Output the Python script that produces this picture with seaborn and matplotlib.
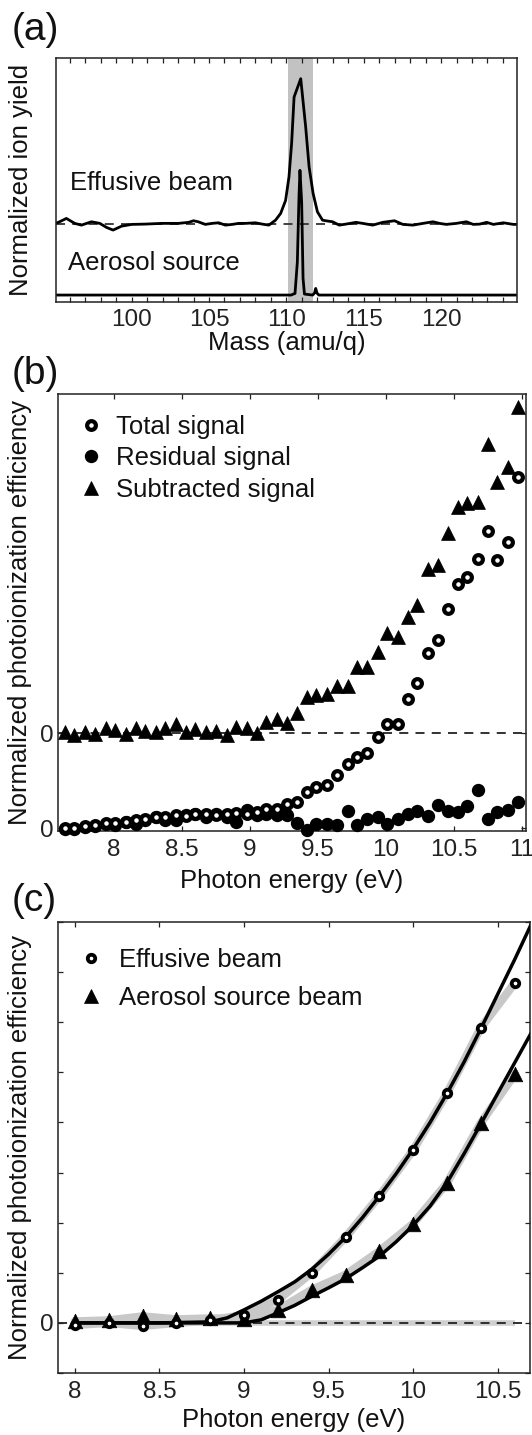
import numpy as np
import matplotlib
matplotlib.use('Agg')
import matplotlib.pyplot as plt
import seaborn as sns
from matplotlib.ticker import MultipleLocator, FixedLocator, FixedFormatter, FormatStrFormatter
from matplotlib.lines import Line2D

# ---------------- data ----------------
# (a) mass spectra, each trace normalised to its own peak
eff_mass = [94.8, 95.34, 95.78, 96.32, 96.75, 97.4, 97.94, 98.38, 98.8, 99.35, 100.0, 100.86,
            101.95, 103.03, 103.68, 104.0, 104.3, 104.76, 105.2, 105.62, 106.06, 106.5, 106.92,
            107.36, 108.0, 108.44, 108.87, 109.3, 109.63, 109.95, 110.17, 110.34, 110.5, 110.93,
            111.25, 111.47, 111.73, 112.01, 112.34, 112.55, 112.99, 113.42, 113.85, 114.5, 114.94,
            115.58, 116.23, 116.99, 117.53, 118.18, 118.83, 119.48, 119.9, 120.34, 120.99, 121.64,
            122.08, 122.5, 122.95, 123.38, 124.03, 124.68, 124.9]
eff_yield = [-0.005, 0.018, 0.041, 0.007, -0.005, 0.018, 0.007, -0.021, -0.039, -0.012, 0.0, 0.002,
             0.007, 0.007, 0.014, 0.025, 0.018, 0.0, 0.007, 0.011, -0.005, 0.0, 0.007,
             0.007, 0.011, 0.002, -0.005, 0.029, 0.075, 0.164, 0.326, 0.555, 0.874, 1.0,
             0.668, 0.395, 0.212, 0.086, 0.029, 0.025, 0.018, -0.005, 0.002, 0.014, 0.007,
             -0.005, 0.014, 0.025, 0.0, -0.005, 0.007, 0.018, 0.007, 0.0, 0.007, 0.018,
             0.0, 0.002, 0.014, 0.0, 0.011, 0.0, 0.0]
aer_mass = [94.8, 110.3, 110.56, 110.71, 110.82, 110.88, 110.99, 111.08, 111.17, 111.7, 111.82,
            111.9, 111.98, 112.1, 124.9]
aer_yield = [0.0, 0.0, 0.013, 0.264, 0.8, 1.0, 0.744, 0.133, 0.008, 0.0, 0.016, 0.053, 0.016, 0.0, 0.0]
mass_window = (110.1, 111.7)

# (b) photoionization efficiency scan
energy_b = [7.64, 7.71, 7.79, 7.86, 7.94, 8.01, 8.09, 8.16, 8.23, 8.31, 8.38, 8.46, 8.53, 8.60,
            8.68, 8.75, 8.83, 8.90, 8.98, 9.05, 9.12, 9.20, 9.27, 9.35, 9.42, 9.49, 9.57, 9.64,
            9.72, 9.79, 9.86, 9.94, 10.01, 10.09, 10.16, 10.23, 10.31, 10.38, 10.46, 10.53, 10.60,
            10.68, 10.75, 10.82, 10.90, 10.97]
total_signal = [0.0, 0.003, 0.017, 0.027, 0.05, 0.05, 0.06, 0.077, 0.093, 0.11, 0.11, 0.127, 0.117,
                0.137, 0.143, 0.127, 0.143, 0.15, 0.143, 0.16, 0.193, 0.193, 0.243, 0.26, 0.36,
                0.41, 0.427, 0.527, 0.643, 0.71, 0.75, 0.91, 1.037, 1.037, 1.293, 1.45, 1.75,
                1.883, 2.193, 2.443, 2.51, 2.693, 2.97, 2.683, 2.86, 3.51]
residual_signal = [-0.007, -0.007, 0.010, 0.017, 0.037, 0.027, 0.060, 0.037, 0.077, 0.110, 0.077,
                   0.077, 0.127, 0.137, 0.110, 0.143, 0.110, 0.060, 0.183, 0.127, 0.143, 0.127,
                   0.127, 0.050, -0.017, 0.037, 0.037, 0.027, 0.170, 0.027, 0.093, 0.110, 0.037,
                   0.093, 0.137, 0.170, 0.117, 0.227, 0.170, 0.160, 0.217, 0.383, 0.093, 0.160,
                   0.183, 0.260]
subtracted_signal = [0.017, -0.017, 0.017, -0.007, 0.05, 0.033, -0.007, 0.05, 0.027, 0.01, 0.05,
                     0.093, 0.01, 0.043, 0.017, 0.027, -0.017, 0.067, 0.05, 0.0, 0.117, 0.14, 0.10,
                     0.20, 0.367, 0.383, 0.393, 0.473, 0.473, 0.667, 0.667, 0.817, 1.007, 0.96,
                     1.167, 1.283, 1.64, 1.683, 2.0, 2.267, 2.30, 2.317, 2.893, 2.517, 2.667, 3.267]

# (c) effusive vs aerosol source, with threshold fits
energy_c = [8.0, 8.2, 8.4, 8.6, 8.8, 9.0, 9.2, 9.4, 9.6, 9.8, 10.0, 10.2, 10.4, 10.6]
effusive_pie = [-0.004, 0.0, -0.006, 0.0, 0.005, 0.016, 0.046, 0.100, 0.171, 0.253, 0.345, 0.458,
                0.589, 0.678]
aerosol_pie = [0.003, 0.005, 0.013, 0.007, 0.009, 0.008, 0.026, 0.066, 0.096, 0.143, 0.198, 0.279,
               0.399, 0.496]
fit_energy = [8.0, 8.5, 8.8, 8.9, 9.0, 9.1, 9.2, 9.3, 9.4, 9.5, 9.6, 9.7, 9.8, 9.9, 10.0, 10.1,
              10.2, 10.3, 10.4, 10.5, 10.6, 10.7]
effusive_fit = [0.0, 0.0, 0.002, 0.01, 0.026, 0.043, 0.062, 0.082, 0.107, 0.137, 0.171, 0.21,
                0.253, 0.298, 0.347, 0.40, 0.458, 0.52, 0.587, 0.656, 0.725, 0.797]
aerosol_fit = [0.0, 0.0, 0.0, 0.0, 0.0, 0.006, 0.02, 0.035, 0.053, 0.07, 0.088, 0.11, 0.133,
               0.162, 0.195, 0.233, 0.28, 0.337, 0.397, 0.458, 0.519, 0.58]

# ---------------- style ----------------
sns.set_theme(style='ticks')
plt.rcParams['font.family'] = ['Liberation Sans', 'DejaVu Sans']
plt.rcParams.update({
    'font.size': 18.5,
    'axes.labelsize': 18.5,
    'xtick.labelsize': 17.5,
    'ytick.labelsize': 17.5,
    'axes.edgecolor': '#222222',
    'axes.linewidth': 1.1,
    'xtick.direction': 'in',
    'ytick.direction': 'in',
    'xtick.top': True,
    'ytick.right': True,
    'xtick.color': '#222222',
    'ytick.color': '#222222',
    'text.color': '#111111',
    'axes.labelcolor': '#111111',
})

fig = plt.figure(figsize=(5.32, 14.35), dpi=100)

def tidy(ax, pad=4):
    ax.tick_params(which='both', length=3.5, width=0.9, pad=pad)

# ---------------- (a) ----------------
EFF_OFF, EFF_SCALE = 0.317, 0.598
AER_OFF, AER_SCALE = 0.027, 0.512
ax1 = fig.add_axes([0.105, 0.7898, 0.8665, 0.1698])
ax1.axvspan(*mass_window, color='#c2c2c2', lw=0, zorder=0)
ax1.axhline(EFF_OFF, ls=(0, (5, 4)), color='#333333', lw=1.3, zorder=1)
sns.lineplot(x=eff_mass, y=EFF_OFF + EFF_SCALE * np.array(eff_yield), color='black', lw=2.0,
             estimator=None, sort=False, ax=ax1, zorder=2)
sns.lineplot(x=aer_mass, y=AER_OFF + AER_SCALE * np.array(aer_yield), color='black', lw=2.0,
             estimator=None, sort=False, ax=ax1, zorder=2)
ax1.set_xlim(95.1, 124.9)
ax1.set_ylim(0, 1)
ax1.xaxis.set_major_locator(MultipleLocator(5))
ax1.xaxis.set_minor_locator(MultipleLocator(1))
ax1.set_yticks([])
tidy(ax1, pad=5)
ax1.text(0.030, 0.487, 'Effusive beam', transform=ax1.transAxes, va='center', ha='left')
ax1.text(0.026, 0.159, 'Aerosol source', transform=ax1.transAxes, va='center', ha='left')
ax1.set_xlabel('Mass (amu/q)', labelpad=0)
ax1.set_ylabel('Normalized ion yield')
ax1.yaxis.set_label_coords(-0.05, 0.5)

# ---------------- (b) ----------------
SUB_OFF = 0.947
ax2 = fig.add_axes([0.109, 0.4209, 0.8797, 0.3045])
ax2.axhline(SUB_OFF, ls=(0, (5, 4)), color='#222222', lw=1.3, zorder=1)
sns.scatterplot(x=energy_b, y=residual_signal, marker='o', s=9.6 ** 2, color='black',
                edgecolor='black', linewidth=0, ax=ax2, zorder=3, clip_on=False)
sns.scatterplot(x=energy_b, y=total_signal, marker='o', s=6.3 ** 2, facecolor='white',
                edgecolor='black', linewidth=3.0, ax=ax2, zorder=4, clip_on=False)
sns.scatterplot(x=energy_b, y=SUB_OFF + np.array(subtracted_signal), marker='^', s=10 ** 2,
                color='black', edgecolor='black', linewidth=0.5, ax=ax2, zorder=5, clip_on=False)
ax2.set_xlim(7.59, 11.03)
ax2.set_ylim(-0.03, 4.34)
ax2.xaxis.set_major_locator(MultipleLocator(0.5))
ax2.xaxis.set_major_formatter(FormatStrFormatter('%g'))
ax2.yaxis.set_major_locator(FixedLocator([0, SUB_OFF]))
ax2.yaxis.set_major_formatter(FixedFormatter(['0', '0']))
tidy(ax2, pad=6)
ax2.tick_params(axis='y', pad=3)
ax2.set_xlabel('Photon energy (eV)', labelpad=5.5)
ax2.set_ylabel('Normalized photoionization efficiency')
ax2.yaxis.set_label_coords(-0.056, 0.5)
h_b = [Line2D([], [], ls='', marker='o', ms=6.3, mfc='white', mec='black', mew=3.0),
       Line2D([], [], ls='', marker='o', ms=9.6, mfc='black', mec='black', mew=0),
       Line2D([], [], ls='', marker='^', ms=10, mfc='black', mec='black', mew=0.5)]
ax2.legend(h_b, ['Total signal', 'Residual signal', 'Subtracted signal'], loc='upper left',
           bbox_to_anchor=(0.0, 0.976), frameon=False, borderaxespad=0, borderpad=0.4,
           handlelength=1.77, handletextpad=0.1, labelspacing=0.29, fontsize=18.5)

# ---------------- (c) ----------------
ax3 = fig.add_axes([0.109, 0.0432, 0.887, 0.3143])
ax3.hlines(0, energy_c[0], energy_c[-1], color='#cfcfcf', lw=4, zorder=1)
ax3.axhline(0, ls=(0, (5, 4)), color='#222222', lw=1.3, zorder=2)
sns.lineplot(x=energy_c, y=effusive_pie, color='#c8c8c8', lw=6, estimator=None, ax=ax3, zorder=2)
sns.lineplot(x=energy_c, y=aerosol_pie, color='#c8c8c8', lw=6, estimator=None, ax=ax3, zorder=2)
sns.lineplot(x=fit_energy, y=effusive_fit, color='black', lw=2.5, estimator=None, ax=ax3, zorder=3)
sns.lineplot(x=fit_energy, y=aerosol_fit, color='black', lw=2.5, estimator=None, ax=ax3, zorder=3)
sns.scatterplot(x=energy_c, y=aerosol_pie, marker='^', s=10.5 ** 2, color='black',
                edgecolor='black', linewidth=0.5, ax=ax3, zorder=4, clip_on=False)
sns.scatterplot(x=energy_c, y=effusive_pie, marker='o', s=5.4 ** 2, facecolor='white',
                edgecolor='black', linewidth=2.7, ax=ax3, zorder=5, clip_on=False)
ax3.set_xlim(7.9, 10.69)
ax3.set_ylim(-0.1, 0.8)
ax3.xaxis.set_major_locator(MultipleLocator(0.5))
ax3.xaxis.set_major_formatter(FormatStrFormatter('%g'))
yt = [-0.1, 0.0, 0.1, 0.2, 0.3, 0.4, 0.5, 0.6, 0.7, 0.8]
ax3.yaxis.set_major_locator(FixedLocator(yt))
ax3.yaxis.set_major_formatter(FixedFormatter(['0' if t == 0 else '' for t in yt]))
tidy(ax3, pad=6)
ax3.tick_params(axis='y', pad=3)
ax3.set_xlabel('Photon energy (eV)', labelpad=3.5)
ax3.set_ylabel('Normalized photoionization efficiency')
ax3.yaxis.set_label_coords(-0.056, 0.5)
h_c = [Line2D([], [], ls='', marker='o', ms=5.4, mfc='white', mec='black', mew=2.7),
       Line2D([], [], ls='', marker='^', ms=10.5, mfc='black', mec='black', mew=0.5)]
ax3.legend(h_c, ['Effusive beam', 'Aerosol source beam'], loc='upper left',
           bbox_to_anchor=(0.0, 0.965), frameon=False, borderaxespad=0, borderpad=0.4,
           handlelength=1.77, handletextpad=0.21, labelspacing=0.56, fontsize=18.5)

# panel letters
fig.text(12 / 532, 1 - 30 / 1435, '(a)', fontsize=28, va='center', ha='left')
fig.text(12 / 532, 1 - 374 / 1435, '(b)', fontsize=28, va='center', ha='left')
fig.text(12 / 532, 1 - 901 / 1435, '(c)', fontsize=28, va='center', ha='left')

fig.savefig('out.png', dpi=100)
